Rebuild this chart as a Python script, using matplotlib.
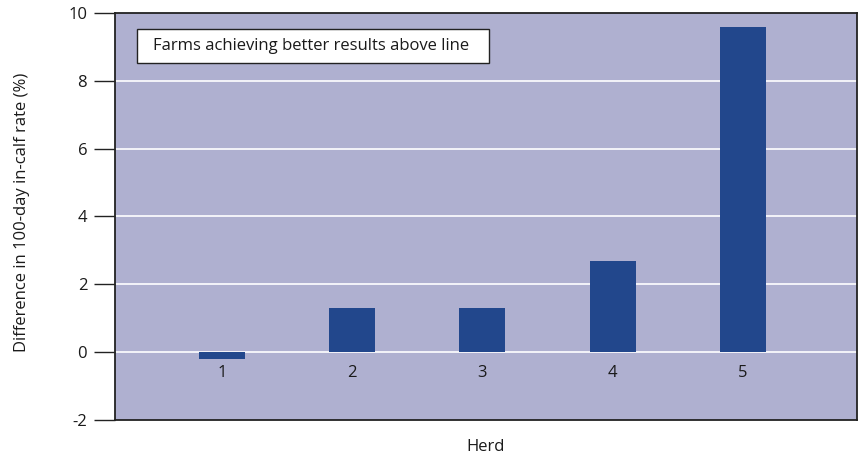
import matplotlib.pyplot as plt
from matplotlib.patches import Rectangle

plt.rcParams['font.family'] = ['Open Sans', 'DejaVu Sans']

herds = ['1', '2', '3', '4', '5']
diff_values = [-0.2, 1.3, 1.3, 2.7, 9.6]
y_ticks = [-2, 0, 2, 4, 6, 8, 10]

bg_color = '#afb0d0'
bar_color = '#22478c'
ink = '#1a1a1a'
fs = 12

fig = plt.figure(figsize=(8.58, 4.55), dpi=100)
ax = fig.add_axes([115/858, 35/455, 742/858, 407/455])
ax.set_facecolor(bg_color)

positions = list(range(1, len(herds) + 1))
ax.bar(positions, diff_values, width=0.353, color=bar_color, zorder=3)

ax.set_ylim(-2, 10)
ax.set_xlim(0.178, 5.877)
ax.set_yticks(y_ticks)
ax.set_yticklabels([str(t) for t in y_ticks], fontsize=fs, color=ink)
for t in y_ticks[1:-1]:
    ax.axhline(t, color='white', linewidth=1.2, zorder=1)

ax.tick_params(axis='y', length=15, width=1, color='#222222', pad=5)
ax.set_xticks([])

# herd numbers sit just under the zero line
for x, name in zip(positions, herds):
    ax.text(x, -0.62, name, ha='center', va='center', fontsize=fs, color=ink)

for side in ax.spines.values():
    side.set_color('#222222')
    side.set_linewidth(1.3)

ax.set_ylabel('Difference in 100-day in-calf rate (%)', fontsize=fs, color=ink)
ax.yaxis.set_label_coords(-0.115, 0.51)
ax.set_xlabel('Herd', fontsize=fs, color=ink, va='top')
ax.xaxis.set_label_coords(0.5, -0.046)

# note box in the top-left corner
ax.add_patch(Rectangle((0.0296, 0.877), 0.4744, 0.0835, transform=ax.transAxes,
                       facecolor='white', edgecolor='#222222', linewidth=1, zorder=5))
ax.text(0.0512, 0.919, 'Farms achieving better results above line',
        transform=ax.transAxes, ha='left', va='center', fontsize=fs,
        color=ink, zorder=6)

fig.savefig('out.png', dpi=100)
